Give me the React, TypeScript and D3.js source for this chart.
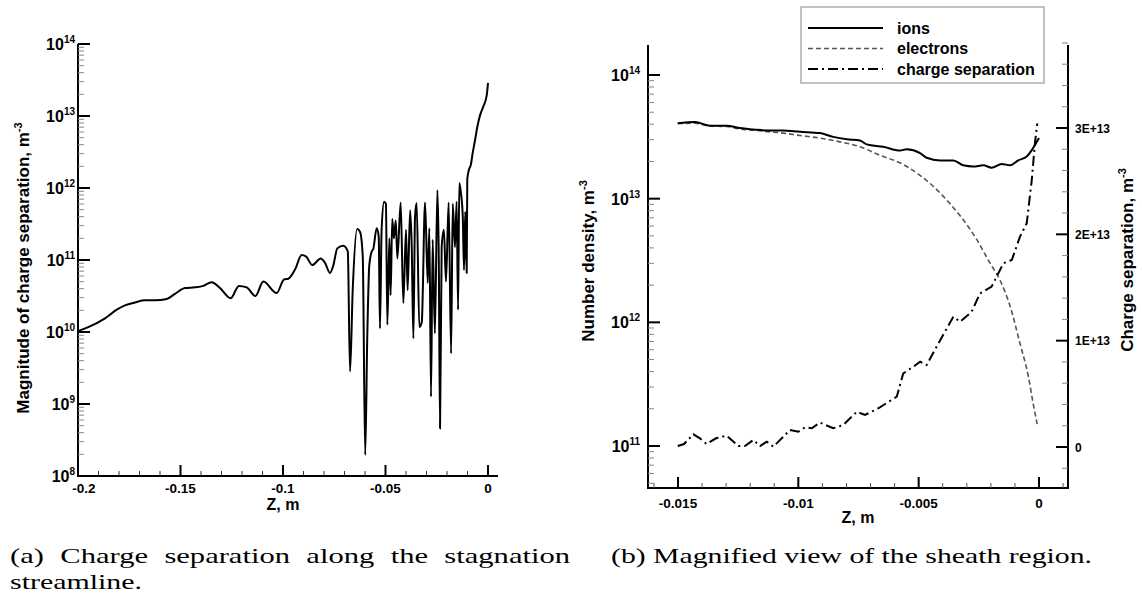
import React from 'react';
import * as d3 from 'd3';

// ---------- Data: panel (a) ----------
const leftZ = [
  -0.2, -0.195, -0.1868, -0.1811, -0.1771, -0.1722, -0.1673, -0.1624, -0.1567, -0.1527,
  -0.1478, -0.1429, -0.1389, -0.1348, -0.1307, -0.1255, -0.1215, -0.1177, -0.1135, -0.1096,
  -0.1031, -0.0995, -0.0974, -0.0941, -0.0909, -0.0888, -0.0857, -0.0816, -0.0795, -0.0771,
  -0.0755, -0.0735, -0.0706, -0.0684, -0.0673, -0.066, -0.0638, -0.0624, -0.0611, -0.0599,
  -0.0589, -0.0579, -0.0567, -0.056, -0.0543, -0.0533, -0.0527, -0.0519, -0.0507, -0.0498,
  -0.0491, -0.0481, -0.0475, -0.0467, -0.0459, -0.045, -0.0442, -0.0426, -0.0413, -0.04,
  -0.0392, -0.038, -0.0372, -0.0364, -0.0356, -0.0348, -0.0335, -0.0323, -0.0307, -0.0294,
  -0.0286, -0.0278, -0.027, -0.0259, -0.0247, -0.024, -0.0234, -0.0226, -0.0215, -0.0205,
  -0.0192, -0.018, -0.0172, -0.0161, -0.0153, -0.0146, -0.014, -0.0132, -0.0123, -0.0117,
  -0.0111, -0.0104, -0.0101, -0.0091, -0.0084, -0.0075, -0.0063, -0.0052, -0.0039, -0.0023,
  -0.0006, 0.0,
];
const leftMag = [
  1.03e10, 1.17e10, 1.55e10, 2.04e10, 2.34e10, 2.57e10, 2.75e10, 2.75e10, 2.88e10, 3.39e10,
  4.07e10, 4.17e10, 4.37e10, 4.9e10, 4.07e10, 2.95e10, 4.37e10, 4.17e10, 3.16e10, 5.01e10,
  3.47e10, 5.37e10, 5.5e10, 7.41e10, 1.17e11, 1.12e11, 8.51e10, 1.05e11, 9.12e10, 6.61e10,
  8.32e10, 1.45e11, 1.58e11, 1.32e11, 2.82e9, 3.8e10, 2.69e11, 2.45e11, 1.12e11, 1.95e8,
  8.51e9, 8.51e10, 1.32e11, 1.41e11, 2.75e11, 2.09e11, 1.12e10, 2.63e11, 6.46e11, 6.03e11,
  1.26e10, 2.0e11, 3.24e10, 3.72e11, 2.0e11, 3.55e11, 1.05e11, 6.31e11, 2.51e10, 2.63e11,
  3.8e10, 4.9e11, 1.51e11, 8.13e9, 3.98e11, 6.17e11, 1.17e10, 1.38e10, 6.31e11, 4.79e10,
  2.75e11, 1.26e9, 1.91e11, 9.55e9, 9.33e11, 1.0e11, 4.57e8, 1.51e11, 2.63e11, 5.01e10,
  6.31e11, 5.01e9, 6.03e11, 1.51e11, 6.46e11, 2.04e10, 1.17e12, 8.51e11, 3.98e11, 7.24e10,
  4.68e11, 6.61e10, 1.35e12, 1.86e12, 2.09e12, 3.02e12, 4.68e12, 7.08e12, 1.02e13, 1.35e13,
  1.95e13, 2.88e13,
];

// ---------- Data: panel (b) ----------
const ionZ = [
  -0.01501, -0.01429, -0.01367, -0.01298, -0.01242, -0.01187, -0.01125, -0.01063, -0.00993, -0.0091,
  -0.00855, -0.00799, -0.00744, -0.00716, -0.00647, -0.00578, -0.0055, -0.00494, -0.00467, -0.00411,
  -0.00356, -0.00315, -0.00273, -0.00231, -0.00197, -0.00155, -0.0012, -0.00086, -0.00051, 0.0,
];
const ionN = [
  4.07e13, 4.17e13, 3.89e13, 3.89e13, 3.72e13, 3.63e13, 3.55e13, 3.55e13, 3.47e13, 3.39e13,
  3.16e13, 3.02e13, 2.95e13, 2.75e13, 2.63e13, 2.45e13, 2.51e13, 2.34e13, 2.14e13, 2.04e13,
  2.04e13, 1.86e13, 1.82e13, 1.86e13, 1.78e13, 1.91e13, 1.86e13, 2.04e13, 2.19e13, 3.09e13,
];
const elecZ = [
  -0.01501, -0.01429, -0.01367, -0.01298, -0.01242, -0.01187, -0.01125, -0.01063, -0.00993, -0.0091,
  -0.00827, -0.00744, -0.00661, -0.00578, -0.00509, -0.0044, -0.0037, -0.00315, -0.00259, -0.00204,
  -0.00162, -0.0012, -0.00079, -0.00044, -0.00024, -0.00007,
];
const elecN = [
  4.05e13, 4.07e13, 3.87e13, 3.83e13, 3.66e13, 3.58e13, 3.48e13, 3.39e13, 3.24e13, 3.09e13,
  2.88e13, 2.63e13, 2.24e13, 1.95e13, 1.62e13, 1.26e13, 9.12e12, 6.76e12, 4.68e12, 3.02e12,
  2.19e12, 1.35e12, 6.76e11, 3.63e11, 2.19e11, 1.48e11,
];
const sepZ = [
  -0.01501, -0.01475, -0.01436, -0.01409, -0.01381, -0.01342, -0.01298, -0.01249, -0.01222, -0.01187,
  -0.01159, -0.01131, -0.01104, -0.01062, -0.01035, -0.01, -0.00972, -0.00944, -0.0091, -0.00855,
  -0.00813, -0.00757, -0.00723, -0.00668, -0.00591, -0.00564, -0.00522, -0.00494, -0.00467, -0.00418,
  -0.00356, -0.00328, -0.0028, -0.00245, -0.00197, -0.00148, -0.00113, -0.00079, -0.00051, -0.0003,
  -0.00017, -0.00007,
];
const sepV = [
  0.09e12, 0.28e12, 1.19e12, 0.82e12, 0.28e12, 0.82e12, 1.07e12, 0.09e12, 0.09e12, 0.66e12,
  0.09e12, 0.5e12, 0.03e12, 0.97e12, 1.6e12, 1.44e12, 1.85e12, 1.76e12, 2.3e12, 1.76e12,
  2.07e12, 3.32e12, 3.01e12, 3.64e12, 4.73e12, 6.93e12, 7.55e12, 8.02e12, 7.71e12, 9.75e12,
  12.25e12, 11.78e12, 12.72e12, 14.45e12, 15.08e12, 17.28e12, 17.59e12, 19.78e12, 21.04e12, 25.11e12,
  28.56e12, 30.44e12,
];

// ---------- Ticks ----------
const leftXTicks = [-0.2, -0.15, -0.1, -0.05, 0];
const leftXLabels = ['-0.2', '-0.15', '-0.1', '-0.05', '0'];
const leftYExps = [8, 9, 10, 11, 12, 13, 14];
const rightXTicks = [-0.015, -0.01, -0.005, 0];
const rightXLabels = ['-0.015', '-0.01', '-0.005', '0'];
const rightYExps = [11, 12, 13, 14];
const rightLinTicks = [0, 1e13, 2e13, 3e13];
const rightLinLabels = ['0', '1E+13', '2E+13', '3E+13'];
const legendNames = ['ions', 'electrons', 'charge separation'];

const FONT = '"Liberation Sans", Arial, Helvetica, sans-serif';
const SERIF = '"Liberation Serif", "Times New Roman", serif';

export default function App() {
  const xL = d3.scaleLinear().domain([-0.2, 0]).range([78, 488]);
  const yL = d3.scaleLog().domain([1e8, 1e14]).range([476, 44]);
  const xR = d3.scaleLinear().domain([-0.015, 0]).range([678, 1039]);
  const yR = d3.scaleLog().domain([1e11, 1e14]).range([446, 75]);
  const yR2 = d3.scaleLinear().domain([0, 3e13]).range([447, 128]);

  const lineL = d3.line<number>().x((_, i) => xL(leftZ[i])).y((d) => yL(d)).curve(d3.curveMonotoneX);
  const lineIon = d3.line<number>().x((_, i) => xR(ionZ[i])).y((d) => yR(d)).curve(d3.curveMonotoneX);
  const lineEl = d3.line<number>().x((_, i) => xR(elecZ[i])).y((d) => yR(d)).curve(d3.curveMonotoneX);
  const lineSep = d3.line<number>().x((_, i) => xR(sepZ[i])).y((d) => yR2(d));

  const leftXMinor: number[] = [];
  for (let k = -20; k <= 0; k++) leftXMinor.push(k / 100);
  const rightXMinor: number[] = [];
  for (let k = -16; k <= 1; k++) rightXMinor.push(k / 1000);

  const logMinor = (lo: number, hi: number, sc: any, yMin: number, yMax: number) => {
    const out: number[] = [];
    for (let e = lo; e <= hi; e++) {
      for (let m = 2; m <= 9; m++) {
        const y = sc(m * Math.pow(10, e));
        if (y >= yMin && y <= yMax) out.push(y);
      }
    }
    return out;
  };
  const leftYMinor = logMinor(8, 13, yL, 44, 476);
  const rightYMinor = logMinor(10, 14, yR, 45, 488);
  const rightLinMinor: number[] = [];
  for (let v = -2e12; v <= 3.8e13; v += 2e12) {
    if (Math.abs(v % 1e13) > 1) rightLinMinor.push(v);
  }

  const axisW = 2;

  return (
    <svg width={1142} height={614} style={{ position: 'absolute', left: 0, top: 0, background: '#fff' }}>
      <rect x={0} y={0} width={1142} height={614} fill="#fff" />

      {/* ================= Panel (a) ================= */}
      <g fontFamily={FONT} fontWeight="bold">
        <line x1={78} y1={476} x2={498} y2={476} stroke="#000" strokeWidth={axisW} />
        <line x1={78} y1={44} x2={78} y2={477} stroke="#000" strokeWidth={axisW} />
        {leftXMinor.map((v, i) => (
          <line key={'lxm' + i} x1={xL(v)} x2={xL(v)} y1={476} y2={471} stroke="#333" strokeWidth={1} />
        ))}
        {leftXTicks.map((v, i) => (
          <g key={'lx' + i}>
            <line x1={xL(v)} x2={xL(v)} y1={476} y2={465} stroke="#000" strokeWidth={2} />
            <text x={xL(v) + (i === 0 ? 6 : 0)} y={493} fontSize={13.5} textAnchor="middle">{leftXLabels[i]}</text>
          </g>
        ))}
        {leftYMinor.map((y, i) => (
          <line key={'lym' + i} x1={78} x2={84} y1={y} y2={y} stroke="#888" strokeWidth={1} />
        ))}
        {leftYExps.map((e, i) => (
          <g key={'ly' + i}>
            <line x1={78} x2={90} y1={yL(Math.pow(10, e))} y2={yL(Math.pow(10, e))} stroke="#000" strokeWidth={2} />
            <text x={75} y={yL(Math.pow(10, e)) + 6} fontSize={16} textAnchor="end">
              <tspan>10</tspan>
              <tspan dy={-7} fontSize={10}>{e}</tspan>
            </text>
          </g>
        ))}
        <text x={283} y={510} fontSize={16} textAnchor="middle">Z, m</text>
        <text transform="translate(29,268) rotate(-90)" fontSize={17} textAnchor="middle">
          <tspan>Magnitude of charge separation, m</tspan>
          <tspan dy={-7} fontSize={11}>-3</tspan>
        </text>
        <path d={lineL(leftMag) || ''} fill="none" stroke="#000" strokeWidth={2} strokeLinejoin="round" />
      </g>

      {/* ================= Panel (b) ================= */}
      <g fontFamily={FONT} fontWeight="bold">
        <line x1={648} y1={45} x2={648} y2={489} stroke="#000" strokeWidth={axisW} />
        <line x1={647} y1={488} x2={1069} y2={488} stroke="#000" strokeWidth={axisW} />
        <line x1={1068} y1={45} x2={1068} y2={489} stroke="#000" strokeWidth={axisW} />
        {rightXMinor.map((v, i) => (
          <line key={'rxm' + i} x1={xR(v)} x2={xR(v)} y1={488} y2={483} stroke="#555" strokeWidth={1} />
        ))}
        {rightXTicks.map((v, i) => (
          <g key={'rx' + i}>
            <line x1={xR(v)} x2={xR(v)} y1={488} y2={477} stroke="#000" strokeWidth={2} />
            <text x={xR(v)} y={508} fontSize={13.5} textAnchor="middle">{rightXLabels[i]}</text>
          </g>
        ))}
        {rightYMinor.map((y, i) => (
          <line key={'rym' + i} x1={648} x2={654} y1={y} y2={y} stroke="#888" strokeWidth={1} />
        ))}
        {rightYExps.map((e, i) => (
          <g key={'ry' + i}>
            <line x1={648} x2={660} y1={yR(Math.pow(10, e))} y2={yR(Math.pow(10, e))} stroke="#000" strokeWidth={2} />
            <text x={640} y={yR(Math.pow(10, e)) + 6} fontSize={16} textAnchor="end">
              <tspan>10</tspan>
              <tspan dy={-7} fontSize={10}>{e}</tspan>
            </text>
          </g>
        ))}
        {rightLinMinor.map((v, i) => (
          <line key={'rlm' + i} x1={1062} x2={1068} y1={yR2(v)} y2={yR2(v)} stroke="#888" strokeWidth={1} />
        ))}
        {rightLinTicks.map((v, i) => (
          <g key={'rl' + i}>
            <line x1={1056} x2={1068} y1={yR2(v)} y2={yR2(v)} stroke="#000" strokeWidth={2} />
            <text x={1075} y={yR2(v) + 4.5} fontSize={12}>{rightLinLabels[i]}</text>
          </g>
        ))}
        <text x={858} y={523} fontSize={16} textAnchor="middle">Z, m</text>
        <text transform="translate(594,261) rotate(-90)" fontSize={17} textAnchor="middle">
          <tspan>Number density, m</tspan>
          <tspan dy={-7} fontSize={11}>-3</tspan>
        </text>
        <text transform="translate(1133,260) rotate(-90)" fontSize={17} textAnchor="middle">
          <tspan>Charge separation, m</tspan>
          <tspan dy={-7} fontSize={11}>-3</tspan>
        </text>

        <path d={lineEl(elecN) || ''} fill="none" stroke="#555" strokeWidth={1.6} strokeDasharray="5,3" />
        <path d={lineIon(ionN) || ''} fill="none" stroke="#000" strokeWidth={2} strokeLinejoin="round" />
        <path d={lineSep(sepV) || ''} fill="none" stroke="#000" strokeWidth={2} strokeDasharray="10,4,2,4" />

        <rect x={801} y={7} width={243} height={76} fill="#fff" stroke="#999" strokeWidth={1.2} />
        {legendNames.map((n, i) => {
          const y = 28 + i * 20.5;
          const stroke = i === 1 ? '#555' : '#000';
          const dash = i === 0 ? undefined : i === 1 ? '5,3' : '10,4,2,4';
          return (
            <g key={'lg' + i}>
              <line x1={808} x2={883} y1={y} y2={y} stroke={stroke} strokeWidth={i === 1 ? 1.6 : 2} strokeDasharray={dash} />
              <text x={897} y={y + 5.5} fontSize={16}>{n}</text>
            </g>
          );
        })}
      </g>

      {/* ================= Captions ================= */}
      <g fontFamily={SERIF} fontSize={21} fill="#000">
        <text x={10} y={563} textLength={560} lengthAdjust="spacingAndGlyphs" wordSpacing={6}>(a) Charge separation along the stagnation</text>
        <text x={10} y={589} textLength={132} lengthAdjust="spacingAndGlyphs">streamline.</text>
        <text x={611} y={563} textLength={481} lengthAdjust="spacingAndGlyphs">(b) Magnified view of the sheath region.</text>
      </g>
    </svg>
  );
}
